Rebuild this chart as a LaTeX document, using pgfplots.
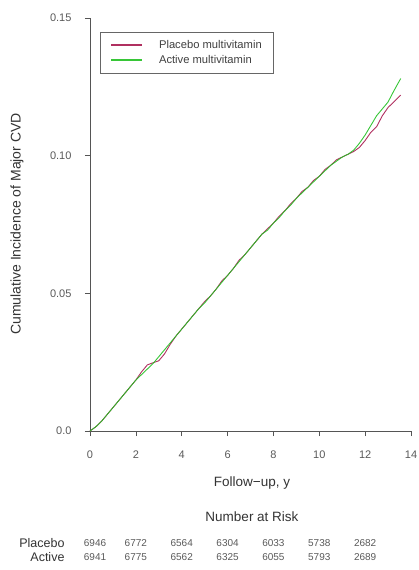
\documentclass[border=0pt]{standalone}
\usepackage{fontspec}
\setmainfont{Liberation Sans}
\usepackage{pgfplots}
\usepackage{pgfplotstable}
\pgfplotsset{compat=1.18}
\definecolor{placebocol}{HTML}{B03060}
\definecolor{activecol}{HTML}{22C022}
\definecolor{axcol}{HTML}{555555}

\pgfplotstableread{
t cum
0 0
0.25 0.0015
0.5 0.0035
0.75 0.006
1 0.0085
1.25 0.011
1.5 0.0135
1.75 0.016
2 0.0185
2.25 0.0215
2.5 0.024
2.75 0.0248
3 0.0255
3.25 0.028
3.5 0.0315
3.75 0.0345
4 0.037
4.25 0.0395
4.5 0.042
4.75 0.0445
5 0.047
5.25 0.049
5.5 0.0515
5.75 0.0545
6 0.0565
6.25 0.059
6.5 0.062
6.75 0.064
7 0.0665
7.25 0.069
7.5 0.0715
7.75 0.0735
8 0.0755
8.25 0.078
8.5 0.080
8.75 0.0825
9 0.0845
9.25 0.087
9.5 0.0885
9.75 0.091
10 0.0925
10.25 0.095
10.5 0.0965
10.75 0.0985
11 0.0995
11.25 0.1005
11.5 0.1015
11.75 0.103
12 0.1055
12.25 0.1085
12.5 0.1105
12.75 0.1145
13 0.1175
13.25 0.1195
13.55 0.122
}\placebotab

\pgfplotstableread{
t cum
0 0
0.25 0.0015
0.5 0.0035
0.75 0.006
1 0.0085
1.25 0.011
1.5 0.0135
1.75 0.016
2 0.0185
2.25 0.0205
2.5 0.0225
2.75 0.0245
3 0.027
3.25 0.0295
3.5 0.032
3.75 0.0345
4 0.037
4.25 0.0395
4.5 0.042
4.75 0.0445
5 0.0465
5.25 0.049
5.5 0.0515
5.75 0.054
6 0.0565
6.25 0.059
6.5 0.0615
6.75 0.064
7 0.0665
7.25 0.069
7.5 0.0715
7.75 0.073
8 0.0755
8.25 0.0775
8.5 0.080
8.75 0.082
9 0.0845
9.25 0.0865
9.5 0.0885
9.75 0.0905
10 0.0925
10.25 0.0945
10.5 0.0965
10.75 0.098
11 0.0995
11.25 0.1005
11.5 0.102
11.75 0.1045
12 0.1075
12.25 0.111
12.5 0.1145
12.75 0.117
13 0.1195
13.25 0.1235
13.55 0.128
}\activetab

\begin{document}
\begin{tikzpicture}
\useasboundingbox (-90pt,-139pt) rectangle (328pt,431pt);
\begin{axis}[
    at={(0pt,0pt)}, anchor=south west,
    scale only axis,
    width=321pt, height=413pt,
    xmin=0, xmax=14, ymin=0, ymax=0.15,
    axis x line*=bottom, axis y line*=left,
    axis line style={-, axcol, line width=0.7pt},
    tick style={axcol, line width=0.7pt},
    tick align=outside, major tick length=5pt,
    xtick={0,2,...,14},
    ytick={0,0.05,0.10,0.15},
    yticklabels={0.0,0.05,0.10,0.15},
    /pgf/number format/assume math mode=true,
    ticklabel style={font=\fontsize{11}{12}\selectfont, text=black!65},
    yticklabel style={xshift=-10pt},
    xticklabel style={yshift=-11pt},
    clip=false,
    legend style={at={(axis description cs:0.031,0.966)}, anchor=north west,
        draw=black!60, line width=0.6pt, font=\fontsize{11.2}{13}\selectfont,
        text=black!75, inner xsep=10pt, inner ysep=6pt, row sep=1.5pt,
        /tikz/every odd column/.append style={column sep=14pt}},
    legend cell align=left,
    legend image code/.code={\draw[#1, line width=1.8pt] (0pt,0pt) -- (31pt,0pt);},
]
\addplot[placebocol, line width=0.9pt] table[x=t, y=cum] {\placebotab};
\addplot[activecol, line width=0.9pt, opacity=0.9] table[x=t, y=cum] {\activetab};
\legend{Placebo multivitamin, Active multivitamin}
\end{axis}
% labels below the axis and the number-at-risk table
\node[font=\fontsize{13.5}{14}\selectfont, text=black!80] at (162pt,-52pt) {Follow−up, y};
\node[font=\fontsize{13.5}{14}\selectfont, text=black!80] at (162pt,-86pt) {Number at Risk};
\node[font=\fontsize{12.5}{13}\selectfont, text=black!80, anchor=east] at (-22pt,-112pt) {Placebo};
\node[font=\fontsize{12.5}{13}\selectfont, text=black!80, anchor=east] at (-22pt,-126pt) {Active};
\foreach \x/\p/\a in {0.22/6946/6941, 2/6772/6775, 4/6564/6562, 6/6304/6325, 8/6033/6055, 10/5738/5793, 12/2682/2689} {
  \node[font=\fontsize{10}{11}\selectfont, text=black!65] at (\x*22.93pt,-112pt) {\p};
  \node[font=\fontsize{10}{11}\selectfont, text=black!65] at (\x*22.93pt,-126pt) {\a};
}
\node[rotate=90, font=\fontsize{14}{15}\selectfont, text=black!80] at (-73pt,207pt) {Cumulative Incidence of Major CVD};
\end{tikzpicture}
\end{document}
